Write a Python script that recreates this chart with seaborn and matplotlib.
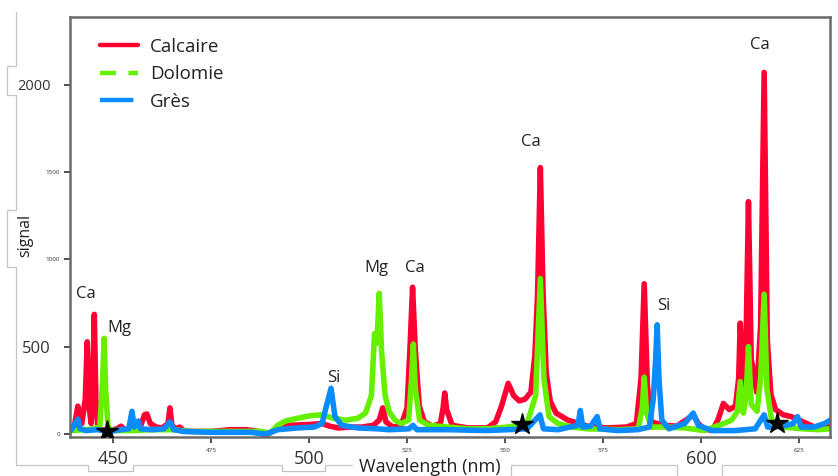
import numpy as np
import pandas as pd
import matplotlib
matplotlib.use("Agg")
import matplotlib.pyplot as plt
from matplotlib.lines import Line2D
import seaborn as sns

# ---------------- data ----------------
calc_wl = [439.2, 440.0, 441.0, 441.4, 442.0, 442.9, 443.4, 443.9, 444.4, 444.8, 445.2, 445.6, 446.1,
           447, 449, 451, 452, 453, 455, 457, 458, 458.6, 459.5, 461, 462.5, 464, 464.5, 465, 466,
           467, 468, 470, 475, 480, 484, 487, 489, 491, 495, 500.3, 503.3, 505.3, 507.4, 510.4,
           513.4, 516.4, 517.9, 518.8, 519.6, 521.4, 523.5, 525.0, 525.8, 526.4, 527.1, 528.1,
           529.4, 531.5, 533.5, 534.2, 534.6, 535.1, 536.5, 540.5, 545.5, 547.6, 549.1, 550.8,
           552.2, 553.6, 555.1, 556.6, 557.6, 558.3, 559.0, 559.7, 560.5, 561.5, 563, 566, 571,
           576, 581, 583.5, 584.7, 585.5, 586.3, 587.3, 588.8, 590.8, 593.8, 596.8, 598, 599.3,
           600.8, 602.8, 604.3, 605.7, 607.2, 608.8, 609.6, 610.0, 610.7, 611.4, 612.1, 612.8,
           614.2, 615.2, 616.1, 616.9, 617.8, 619, 621, 623, 626, 629, 631, 633]
calc_val = [40, 30, 160, 60, 60, 200, 528, 150, 60, 250, 685, 200, 40,
            25, 20, 30, 45, 25, 30, 45, 110, 115, 60, 40, 35, 60, 150, 50, 30,
            40, 20, 15, 15, 25, 25, 15, -10, 20, 50, 55, 60, 45, 35, 40,
            40, 50, 80, 150, 70, 40, 50, 150, 520, 840, 480, 160,
            70, 45, 60, 150, 235, 140, 50, 35, 35, 70, 160, 290,
            220, 190, 200, 240, 450, 800, 1525, 800, 350, 190, 120, 80, 45,
            35, 40, 60, 320, 860, 280, 70, 60, 50, 45, 90, 110, 60,
            30, 20, 80, 175, 140, 160, 320, 635, 280, 420, 1330, 430,
            240, 620, 2070, 540, 230, 140, 110, 100, 70, 40, 40, 50]

dolo_wl = [439.2, 443, 445, 446.6, 447.3, 447.7, 448.1, 448.7, 450, 455, 460, 465, 470, 480, 488,
           490, 492, 494, 497, 500.3, 503.3, 506.3, 509.4, 512.4, 514.4, 515.9, 516.7, 517.3,
           517.9, 518.5, 519.4, 520.4, 521.9, 523.5, 525.4, 526.1, 526.6, 527.1, 528.2, 530.5,
           535.5, 540.5, 545.5, 550.6, 553.6, 555.6, 557.8, 559.0, 559.9, 561.2, 563.5, 567,
           571, 579, 584, 585.0, 585.5, 586.1, 587.3, 590.8, 595.8, 600.8, 605.8, 607.8, 609.3,
           610.0, 610.8, 611.5, 612.1, 612.8, 614.3, 615.2, 616.1, 616.8, 618, 621, 626, 630, 633]
dolo_val = [20, 25, 30, 40, 300, 548, 250, 40, 20, 20, 25, 25, 15, 15, 15,
            5, 50, 75, 90, 105, 110, 90, 80, 90, 120, 220, 575, 520,
            805, 470, 220, 130, 80, 60, 80, 300, 515, 260, 80, 50,
            40, 30, 30, 40, 50, 60, 220, 890, 320, 100, 60, 40,
            30, 25, 30, 150, 325, 120, 40, 40, 35, 20, 60, 80, 130,
            300, 120, 220, 500, 170, 130, 320, 800, 260, 80, 40, 30, 25, 30]

gres_wl = [439.2, 441.0, 441.6, 443, 446, 449, 452, 454, 454.8, 455.4, 456.4, 457, 460, 463, 464.5,
           465.5, 468, 475, 485, 489, 492, 497, 501.3, 503.3, 504.3, 505.6, 506.6, 508.3, 512.4,
           517.4, 520.4, 525.5, 526.5, 527.5, 535.5, 545.5, 550.6, 555.6, 558.9, 559.8, 563.5,
           568.6, 569.2, 569.8, 571.8, 573.5, 574.2, 578.8, 583.8, 586.8, 587.8, 588.4, 588.8,
           589.3, 590.0, 591.8, 595.8, 598.0, 599.3, 602.8, 608.8, 613.8, 616.1, 617.0, 618.5,
           620.8, 623.5, 624.6, 625.6, 628.8, 631.5, 633]
gres_val = [20, 85, 30, 20, 25, 15, 25, 30, 130, 40, 75, 30, 25, 30, 70,
            25, 15, 10, 10, 0, 25, 35, 40, 60, 150, 262, 100, 50, 35,
            30, 25, 30, 50, 25, 25, 20, 25, 30, 110, 30, 25,
            50, 135, 40, 45, 100, 30, 20, 25, 40, 200, 420, 625,
            300, 80, 30, 60, 120, 50, 20, 20, 30, 110, 40, 40,
            45, 60, 100, 40, 40, 60, 80]

series_names = ["Calcaire", "Dolomie", "Grès"]
series_colors = ["#ff0033", "#66f000", "#0a8cff"]

star_wl = [448.5, 554.4, 619.5]
star_val = [20, 57, 62]

ann_text = ["Ca", "Mg", "Si", "Mg", "Ca", "Ca", "Si", "Ca"]
ann_wl = [443.1, 451.5, 506.2, 517.1, 527.1, 556.7, 590.4, 615.1]
ann_val = [801, 607, 320, 950, 950, 1671, 733, 2227]

x_ticks = [450, 475, 500, 525, 550, 575, 600, 625]
x_big = [450, 500, 600]
y_ticks = [0, 500, 1000, 1500, 2000]
y_big = [500, 2000]

# ---------------- figure ----------------
sns.set_theme(style="white")
plt.rcParams["font.family"] = ["Open Sans", "DejaVu Sans"]

W, H = 838, 476
fig = plt.figure(figsize=(W / 100, H / 100), dpi=100)
ax = fig.add_axes([70 / W, 1 - 436.5 / H, 760 / W, (436.5 - 17) / H])

df = pd.concat([
    pd.DataFrame({"wl": calc_wl, "signal": calc_val, "type": "Calcaire"}),
    pd.DataFrame({"wl": dolo_wl, "signal": dolo_val, "type": "Dolomie"}),
    pd.DataFrame({"wl": gres_wl, "signal": gres_val, "type": "Grès"}),
], ignore_index=True)

sns.lineplot(data=df, x="wl", y="signal", hue="type", hue_order=series_names,
             palette=series_colors, estimator=None, sort=False, lw=4.0,
             legend=False, ax=ax)

ax.plot(star_wl, star_val, linestyle="none", marker="*", color="black",
        markersize=16, zorder=5)

for t, x, y in zip(ann_text, ann_wl, ann_val):
    ax.text(x, y, t, ha="center", va="center", fontsize=12, color="#222222")

ax.set_xlim(439.0, 632.9)
ax.set_ylim(-14, 2387)

# spines
for s in ax.spines.values():
    s.set_color("#6a6a6a")
    s.set_linewidth(1.8)

ax.set_xticks(x_ticks)
ax.set_xticklabels([str(v) for v in x_ticks])
ax.set_yticks(y_ticks)
ax.set_yticklabels([str(v) for v in y_ticks])
ax.tick_params(axis="both", which="major", direction="out", length=4, width=1.2,
               color="#333333", bottom=True, left=True, labelcolor="#333333")

for tick, v in zip(ax.xaxis.get_major_ticks(), x_ticks):
    if v in x_big:
        tick.label1.set_fontsize(13)
        tick.set_pad(6)
    else:
        tick.label1.set_fontsize(4.5)
        tick.set_pad(4)
for tick, v in zip(ax.yaxis.get_major_ticks(), y_ticks):
    if v in y_big:
        tick.label1.set_fontsize(12 if v == 500 else 10.5)
        tick.set_pad(10)
    else:
        tick.label1.set_fontsize(4.5)
        tick.set_pad(3)

ax.set_xlabel("")
ax.set_ylabel("")
fig.text(430 / W, 1 - 467 / H, "Wavelength (nm)", ha="center", va="center",
         fontsize=13, color="#222222")
fig.text(25 / W, 1 - 235 / H, "signal", ha="center", va="center", rotation=90,
         fontsize=11.5, color="#222222")

# legend
handles = [
    Line2D([], [], color=series_colors[0], lw=3.2),
    Line2D([], [], color=series_colors[1], lw=3.2, dashes=(3.6, 2.8)),
    Line2D([], [], color=series_colors[2], lw=3.2, dashes=(7.5, 2.6, 0.5, 2.6)),
]
leg = fig.legend(handles, series_names, loc="upper left",
                 bbox_to_anchor=(100 / W, 1 - 38 / H), bbox_transform=fig.transFigure,
                 frameon=False, fontsize=13.5, handlelength=2.0, handletextpad=0.65,
                 labelspacing=0.5, borderpad=0, borderaxespad=0)
for t in leg.get_texts():
    t.set_color("#222222")

# pasted-box outlines around the figure
def px_line(xs, ys):
    fig.add_artist(Line2D([x / W for x in xs], [1 - y / H for y in ys],
                          transform=fig.transFigure, color="#c4c4c4", lw=0.9))

px_line([16, 16, 7, 7, 16, 16, 7, 7, 16, 16, 88, 88, 133, 133, 282, 282, 325, 325, 352],
        [12, 66, 66, 95, 95, 210, 210, 267, 267, 465, 465, 471, 471, 465, 465, 471, 471, 465, 465])
px_line([511, 511, 677, 677], [476, 465, 465, 476])
px_line([722, 722, 836], [476, 465, 465])

fig.savefig("out.png", dpi=100)
